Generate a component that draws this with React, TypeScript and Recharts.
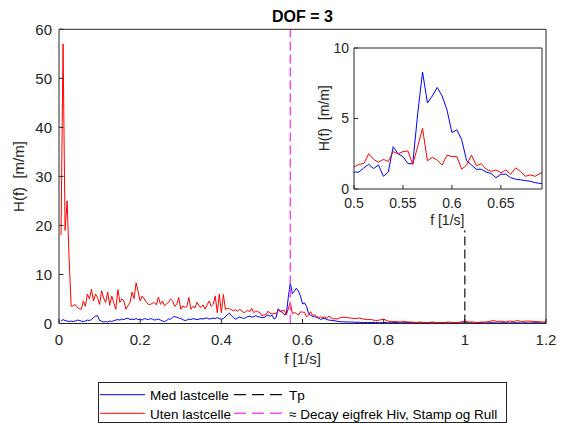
import { LineChart, Line, XAxis, YAxis, ReferenceLine, CartesianGrid } from 'recharts';

// frekvens [1/s]
const freq = [
  0.005, 0.01, 0.015, 0.02, 0.025, 0.03, 0.035, 0.04, 0.045, 0.05,
  0.055, 0.06, 0.065, 0.07, 0.075, 0.08, 0.085, 0.09, 0.095, 0.1,
  0.105, 0.11, 0.115, 0.12, 0.125, 0.13, 0.135, 0.14, 0.145, 0.15,
  0.155, 0.16, 0.165, 0.17, 0.175, 0.18, 0.185, 0.19, 0.195, 0.2,
  0.205, 0.21, 0.215, 0.22, 0.225, 0.23, 0.235, 0.24, 0.245, 0.25,
  0.255, 0.26, 0.265, 0.27, 0.275, 0.28, 0.285, 0.29, 0.295, 0.3,
  0.305, 0.31, 0.315, 0.32, 0.325, 0.33, 0.335, 0.34, 0.345, 0.35,
  0.355, 0.36, 0.365, 0.37, 0.375, 0.38, 0.385, 0.39, 0.395, 0.4,
  0.405, 0.41, 0.415, 0.42, 0.425, 0.43, 0.435, 0.44, 0.445, 0.45,
  0.455, 0.46, 0.465, 0.47, 0.475, 0.48, 0.485, 0.49, 0.495, 0.5,
  0.505, 0.51, 0.515, 0.52, 0.525, 0.53, 0.535, 0.54, 0.545, 0.55,
  0.555, 0.56, 0.565, 0.57, 0.575, 0.58, 0.585, 0.59, 0.595, 0.6,
  0.605, 0.61, 0.615, 0.62, 0.625, 0.63, 0.635, 0.64, 0.645, 0.65,
  0.655, 0.66, 0.665, 0.67, 0.675, 0.68, 0.685, 0.69, 0.695, 0.7,
  0.71, 0.72, 0.73, 0.74, 0.75, 0.76, 0.77, 0.78, 0.79, 0.8,
  0.81, 0.82, 0.83, 0.84, 0.85, 0.86, 0.87, 0.88, 0.89, 0.9,
  0.91, 0.92, 0.93, 0.94, 0.95, 0.96, 0.97, 0.98, 0.99, 1,
  1.01, 1.02, 1.03, 1.04, 1.05, 1.06, 1.07, 1.08, 1.09, 1.1,
  1.11, 1.12, 1.13, 1.14, 1.15, 1.16, 1.17, 1.18, 1.19, 1.2,
];

// H(f) med lastcelle
const medLastcelle = [
  0.5, 0.8, 0.6, 0.5, 0.4, 0.5, 0.4, 0.5, 0.7, 0.6,
  0.5, 0.4, 0.5, 0.7, 0.6, 0.8, 1.2, 1.5, 1.6, 0.6,
  0.5, 0.3, 0.4, 0.3, 0.5, 0.4, 0.6, 0.7, 0.8, 0.7,
  0.9, 0.8, 1.0, 1.1, 0.8, 0.9, 0.8, 1.0, 0.8, 0.9,
  0.7, 1.0, 0.9, 0.8, 1.0, 0.9, 0.7, 0.8, 0.9, 0.7,
  0.5, 0.4, 0.6, 0.9, 0.9, 1.3, 1.4, 1.3, 1.1, 1.0,
  0.8, 0.6, 0.7, 0.9, 0.8, 1.0, 0.9, 0.8, 0.9, 1.0,
  0.9, 1.1, 1.1, 0.9, 1.0, 1.1, 1.0, 1.2, 1.0, 0.9,
  1.0, 1.4, 1.8, 2.1, 1.6, 1.2, 0.9, 1.1, 1.3, 1.2,
  1.0, 1.2, 1.4, 1.5, 1.3, 1.4, 1.6, 1.4, 1.3, 1.2,
  1.2, 1.5, 1.75, 1.45, 1.7, 0.9, 1.2, 3.0, 2.5, 2.3,
  1.8, 1.8, 5.3, 8.3, 6.1, 6.6, 7.2, 6.6, 5.6, 4.0,
  4.2, 3.5, 2.0, 1.7, 1.4, 1.4, 1.2, 1.1, 0.8, 1.05,
  1.05, 0.8, 0.7, 0.65, 0.6, 0.55, 0.45, 0.4, 0.35, 0.35,
  0.3, 0.3, 0.25, 0.25, 0.2, 0.2, 0.2, 0.2, 0.15, 0.2,
  0.15, 0.15, 0.2, 0.15, 0.15, 0.2, 0.15, 0.15, 0.15, 0.15,
  0.15, 0.15, 0.1, 0.15, 0.15, 0.1, 0.15, 0.15, 0.1, 0.15,
  0.15, 0.1, 0.15, 0.15, 0.1, 0.15, 0.15, 0.1, 0.15, 0.15,
  0.1, 0.15, 0.15, 0.1, 0.15, 0.1, 0.15, 0.15, 0.1, 0.15,
];

// H(f) uten lastcelle
const utenLastcelle = [
  18, 57, 19, 25, 13, 3.5, 3.6, 3.9, 3.3, 3.0,
  2.9, 4.6, 3.5, 6.0, 5.0, 7.0, 4.6, 6.0, 5.3, 3.9,
  6.7, 5.2, 4.3, 6.4, 3.7, 5.6, 4.2, 2.9, 6.9, 4.3,
  5.0, 4.6, 2.9, 3.6, 4.3, 6.4, 5.1, 8.3, 6.5, 4.6,
  5.6, 5.0, 4.4, 3.9, 3.9, 4.1, 4.3, 3.8, 5.4, 3.9,
  4.6, 3.6, 4.0, 4.3, 5.0, 4.6, 3.5, 3.9, 5.3, 2.9,
  3.6, 3.3, 3.4, 5.3, 2.9, 3.5, 3.2, 4.3, 3.6, 3.3,
  3.8, 2.9, 3.8, 4.6, 3.5, 3.9, 5.6, 2.2, 6.0, 2.2,
  5.9, 2.9, 3.1, 3.0, 2.8, 2.6, 2.8, 2.5, 2.9, 2.6,
  2.2, 2.4, 2.7, 2.4, 3.1, 2.2, 2.6, 2.4, 2.2, 1.55,
  1.75, 1.8, 2.5, 2.1, 1.9, 2.1, 1.95, 2.65, 2.5, 2.65,
  2.7, 1.75, 3.0, 4.3, 2.0, 2.25, 2.05, 1.7, 2.4, 2.3,
  2.3, 1.4, 1.7, 2.4, 1.65, 1.8, 1.4, 1.25, 1.35, 1.15,
  1.35, 1.05, 1.5, 1.25, 0.9, 1.0, 0.9, 1.1, 1.2, 1.3,
  1.2, 1.1, 1.0, 1.1, 0.9, 0.8, 0.8, 0.6, 0.7, 0.9,
  0.5, 0.4, 0.4, 0.3, 0.4, 0.3, 0.3, 0.2, 0.3, 0.2,
  0.2, 0.3, 0.2, 0.2, 0.2, 0.3, 0.2, 0.2, 0.3, 0.5,
  0.3, 0.3, 0.2, 0.3, 0.3, 0.4, 0.6, 0.4, 0.5, 0.3,
  0.5, 0.4, 0.6, 0.4, 0.5, 0.5, 0.4, 0.4, 0.3, 0.3,
];

const mainXTicks = [0, 0.2, 0.4, 0.6, 0.8, 1, 1.2];
const mainYTicks = [0, 10, 20, 30, 40, 50, 60];
const insetXTicks = [0.5, 0.55, 0.6, 0.65];
const insetYTicks = [0, 5, 10];
const tp = 1;
const tpLineTop = 19;
const decayFreq = 0.57;

const rows = freq.map((f, i) => ({ f, med: medLastcelle[i], uten: utenLastcelle[i] }));
const insetRows = rows.filter((r) => r.f >= 0.5 && r.f <= 0.7);

const FONT = '"Liberation Sans", Arial, sans-serif';
const AX = '#262626';

export default function App() {
  const tickMain = { fill: AX, fontSize: 15, fontFamily: FONT };
  const tickInset = { fill: AX, fontSize: 14, fontFamily: FONT };
  return (
    <div style={{ position: 'absolute', left: 0, top: 0, width: 568, height: 424, background: '#fff' }}>
      <div style={{ position: 'absolute', left: 0, top: 0 }}>
        <LineChart width={568} height={424} data={rows} margin={{ top: 0, right: 0, bottom: 0, left: 0 }}>
          <XAxis dataKey="f" type="number" domain={[0, 1.2]} ticks={mainXTicks} interval={0} height={100.5}
            stroke={AX} tickSize={-4.5} tickMargin={15} tick={tickMain} />
          <XAxis xAxisId="top" orientation="top" dataKey="f" type="number" domain={[0, 1.2]} ticks={mainXTicks}
            interval={0} height={29.3} stroke={AX} tickSize={-4.5} tick={false} />
          <YAxis type="number" domain={[0, 60]} ticks={mainYTicks} interval={0} width={59}
            stroke={AX} tickSize={-4.5} tickMargin={11.5} tick={tickMain} />
          <YAxis yAxisId="right" orientation="right" type="number" domain={[0, 60]} ticks={mainYTicks}
            interval={0} width={22} stroke={AX} tickSize={-4.5} tick={false} />
          <Line type="linear" dataKey="med" stroke="#0000ff" strokeWidth={1} dot={false} isAnimationActive={false} />
          <Line type="linear" dataKey="uten" stroke="#ff0000" strokeWidth={1} dot={false} isAnimationActive={false} />
          <ReferenceLine segment={[{ x: tp, y: 0 }, { x: tp, y: tpLineTop }]} stroke="#111" strokeWidth={1.2}
            strokeDasharray="9 4" />
          <ReferenceLine x={decayFreq} stroke="#f050f0" strokeWidth={1.5} strokeDasharray="9 4" />
        </LineChart>
      </div>

      <div style={{ position: 'absolute', left: 290, top: 38 }}>
        <LineChart width={260} height={200} data={insetRows} margin={{ top: 0, right: 0, bottom: 0, left: 0 }}>
          <CartesianGrid fill="#fff" horizontal={false} vertical={false} />
          <XAxis dataKey="f" type="number" domain={[0.5, 0.692]} allowDataOverflow ticks={insetXTicks} interval={0}
            height={49} stroke={AX} tickSize={-4} tickMargin={13.5} tick={tickInset} />
          <XAxis xAxisId="top" orientation="top" dataKey="f" type="number" domain={[0.5, 0.692]} allowDataOverflow
            ticks={insetXTicks} interval={0} height={10} stroke={AX} tickSize={-4} tick={false} />
          <YAxis type="number" domain={[0, 10]} ticks={insetYTicks} interval={0} width={64}
            stroke={AX} tickSize={-4} tickMargin={9} tick={tickInset} />
          <YAxis yAxisId="right" orientation="right" type="number" domain={[0, 10]} ticks={insetYTicks}
            interval={0} width={8} stroke={AX} tickSize={-4} tick={false} />
          <Line type="linear" dataKey="med" stroke="#0000ff" strokeWidth={1} dot={false} isAnimationActive={false} />
          <Line type="linear" dataKey="uten" stroke="#ff0000" strokeWidth={1} dot={false} isAnimationActive={false} />
        </LineChart>
      </div>

      <svg width={568} height={424} style={{ position: 'absolute', left: 0, top: 0, pointerEvents: 'none' }}
        fontFamily={FONT}>
        <text x={302.5} y={21.5} textAnchor="middle" fontSize={16} fontWeight="bold" fill="#000">DOF = 3</text>
        <text x={302.5} y={364} textAnchor="middle" fontSize={15} fill={AX}>f [1/s]</text>
        <text transform="translate(24,176.5) rotate(-90)" textAnchor="middle" fontSize={15} fill={AX}
          style={{ whiteSpace: 'pre' }}>H(f)  [m/m]</text>
        <text x={447.3} y={224.5} textAnchor="middle" fontSize={14} fill={AX}>f [1/s]</text>
        <text transform="translate(328.8,118.3) rotate(-90)" textAnchor="middle" fontSize={14} fill={AX}
          style={{ whiteSpace: 'pre' }}>H(f)  [m/m]</text>

        <rect x={98.5} y={382.5} width={408} height={40} fill="#fff" stroke={AX} strokeWidth={1} />
        <line x1={100} y1={394.7} x2={145} y2={394.7} stroke="#0000ff" strokeWidth={1} />
        <text x={150} y={400} fontSize={13.5} fill="#000">Med lastcelle</text>
        <line x1={100} y1={413.3} x2={145} y2={413.3} stroke="#ff0000" strokeWidth={1} />
        <text x={150} y={418.5} fontSize={13.5} fill="#000">Uten lastcelle</text>
        <line x1={234} y1={394.7} x2={283} y2={394.7} stroke="#111" strokeWidth={1.2} strokeDasharray="12 6" />
        <text x={289} y={400} fontSize={13.5} fill="#000">Tp</text>
        <line x1={234} y1={413.3} x2={283} y2={413.3} stroke="#f050f0" strokeWidth={1.5} strokeDasharray="12 6" />
        <text x={289} y={418.5} fontSize={13.5} fill="#000">≈ Decay eigfrek Hiv, Stamp og Rull</text>
      </svg>
    </div>
  );
}
